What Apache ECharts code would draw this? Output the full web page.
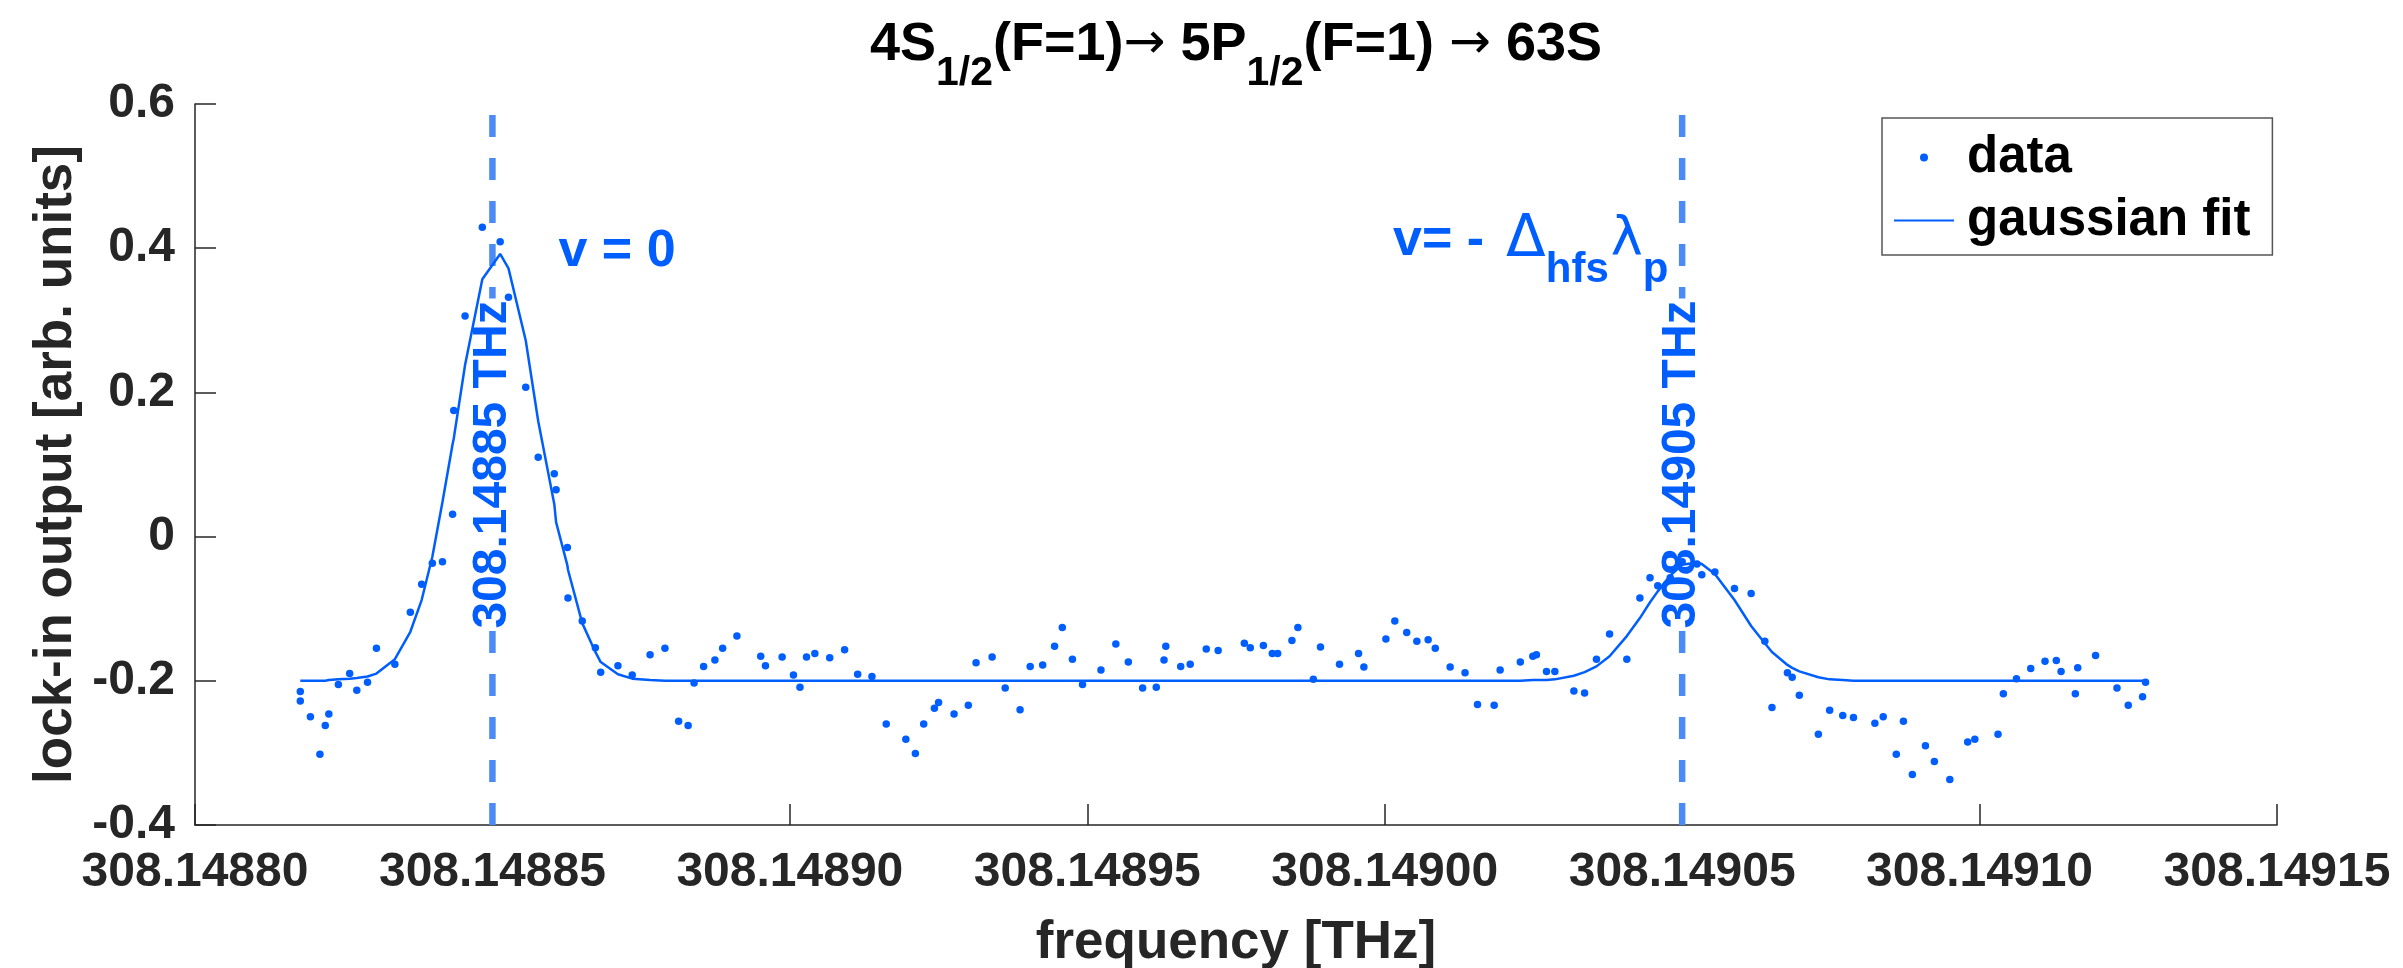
<!DOCTYPE html>
<html>
<head>
<meta charset="utf-8">
<title>Lock-in spectrum 4S1/2 → 5P1/2 → 63S</title>
<script src="https://cdn.jsdelivr.net/npm/echarts@6/dist/echarts.min.js"></script>
<style>
  html, body { margin: 0; padding: 0; background: #ffffff; }
  #chart { width: 2403px; height: 968px; }
</style>
</head>
<body>
<div id="chart"></div>
<script>
// Measured lock-in signal versus probe frequency (THz)
const freqTHz = [
  308.1488177, 308.1488177, 308.1488194, 308.1488210, 308.1488219, 308.1488225, 308.1488241, 308.1488260,
  308.1488272, 308.1488290, 308.1488305, 308.1488336, 308.1488362, 308.1488381, 308.1488399, 308.1488416,
  308.1488433, 308.1488435, 308.1488454, 308.1488483, 308.1488513, 308.1488527, 308.1488556, 308.1488577,
  308.1488604, 308.1488607, 308.1488626, 308.1488627, 308.1488651, 308.1488673, 308.1488682, 308.1488711,
  308.1488735, 308.1488765, 308.1488790, 308.1488813, 308.1488829, 308.1488839, 308.1488855, 308.1488874,
  308.1488887, 308.1488911, 308.1488951, 308.1488959, 308.1488987, 308.1489006, 308.1489017, 308.1489028,
  308.1489042, 308.1489067, 308.1489092, 308.1489114, 308.1489138, 308.1489162, 308.1489195, 308.1489211,
  308.1489225, 308.1489243, 308.1489250, 308.1489276, 308.1489300, 308.1489313, 308.1489340, 308.1489362,
  308.1489387, 308.1489404, 308.1489425, 308.1489445, 308.1489458, 308.1489475, 308.1489492, 308.1489523,
  308.1489548, 308.1489569, 308.1489593, 308.1489616, 308.1489629, 308.1489632, 308.1489657, 308.1489673,
  308.1489700, 308.1489720, 308.1489764, 308.1489774, 308.1489796, 308.1489811, 308.1489820, 308.1489844,
  308.1489854, 308.1489880, 308.1489892, 308.1489924, 308.1489956, 308.1489965, 308.1490002, 308.1490017,
  308.1490037, 308.1490054, 308.1490073, 308.1490085, 308.1490110, 308.1490135, 308.1490156, 308.1490184,
  308.1490194, 308.1490228, 308.1490249, 308.1490255, 308.1490272, 308.1490286, 308.1490318, 308.1490336,
  308.1490356, 308.1490378, 308.1490407, 308.1490429, 308.1490446, 308.1490459, 308.1490480, 308.1490500,
  308.1490525, 308.1490533, 308.1490555, 308.1490588, 308.1490616, 308.1490639, 308.1490651, 308.1490677,
  308.1490685, 308.1490697, 308.1490729, 308.1490748, 308.1490770, 308.1490788, 308.1490824, 308.1490838,
  308.1490860, 308.1490872, 308.1490887, 308.1490909, 308.1490924, 308.1490950, 308.1490980, 308.1490992,
  308.1491031, 308.1491040, 308.1491062, 308.1491086, 308.1491110, 308.1491129, 308.1491137, 308.1491161,
  308.1491165, 308.1491195, 308.1491231, 308.1491250, 308.1491274, 308.1491279
];
const lockIn = [
  -0.215, -0.228, -0.250, -0.302, -0.262, -0.246, -0.205, -0.190,
  -0.213, -0.202, -0.155, -0.177, -0.105, -0.066, -0.037, -0.035,
   0.031,  0.175,  0.306,  0.429,  0.409,  0.332,  0.207,  0.110,
   0.087,  0.065, -0.015, -0.085, -0.117, -0.154, -0.188, -0.179,
  -0.192, -0.164, -0.155, -0.256, -0.262, -0.203, -0.180, -0.171,
  -0.155, -0.138, -0.166, -0.179, -0.167, -0.192, -0.209, -0.167,
  -0.162, -0.168, -0.157, -0.191, -0.194, -0.260, -0.281, -0.301,
  -0.260, -0.238, -0.230, -0.246, -0.234, -0.175, -0.167, -0.210,
  -0.240, -0.180, -0.178, -0.152, -0.126, -0.170, -0.205, -0.185,
  -0.149, -0.174, -0.210, -0.209, -0.171, -0.152, -0.180, -0.177,
  -0.156, -0.158, -0.148, -0.154, -0.151, -0.162, -0.162, -0.144,
  -0.126, -0.198, -0.153, -0.177, -0.162, -0.181, -0.142, -0.117,
  -0.133, -0.145, -0.143, -0.155, -0.181, -0.189, -0.233, -0.234,
  -0.185, -0.174, -0.166, -0.164, -0.187, -0.187, -0.214, -0.217,
  -0.170, -0.135, -0.170, -0.085, -0.057, -0.068, -0.057, -0.035,
  -0.038, -0.053, -0.049, -0.072, -0.079, -0.145, -0.237, -0.189,
  -0.195, -0.220, -0.274, -0.241, -0.248, -0.251, -0.259, -0.250,
  -0.302, -0.256, -0.330, -0.290, -0.312, -0.337, -0.285, -0.281,
  -0.274, -0.218, -0.197, -0.183, -0.173, -0.172, -0.187, -0.218,
  -0.182, -0.165, -0.210, -0.234, -0.222, -0.202
];

// Gaussian fit, sampled at the measurement frequencies (flat parts kept by their ends)
const fitFreqTHz = [
  308.1488177, 308.1488219, 308.1488225, 308.1488241, 308.1488260, 308.1488272, 308.1488290, 308.1488305,
  308.1488336, 308.1488362, 308.1488381, 308.1488399, 308.1488416, 308.1488433, 308.1488435, 308.1488454,
  308.1488483, 308.1488513, 308.1488527, 308.1488556, 308.1488577, 308.1488604, 308.1488607, 308.1488626,
  308.1488627, 308.1488651, 308.1488673, 308.1488682, 308.1488711, 308.1488735, 308.1488765, 308.1488790,
  308.1490228, 308.1490249, 308.1490272, 308.1490286, 308.1490318, 308.1490336, 308.1490356, 308.1490378,
  308.1490407, 308.1490429, 308.1490446, 308.1490459, 308.1490480, 308.1490500, 308.1490525, 308.1490533,
  308.1490555, 308.1490588, 308.1490616, 308.1490639, 308.1490651, 308.1490677, 308.1490685, 308.1490697,
  308.1490729, 308.1490748, 308.1490770, 308.1490788, 308.1491279
];
const fitLevel = [
  -0.200, -0.200, -0.199, -0.198, -0.197, -0.196, -0.194, -0.190,
  -0.170, -0.132, -0.088, -0.028,  0.048,  0.128,  0.136,  0.238,
   0.357,  0.392,  0.372,  0.272,  0.160,  0.045,  0.020, -0.040,
  -0.046, -0.120, -0.160, -0.174, -0.191, -0.197, -0.199, -0.200,
  -0.200, -0.199, -0.199, -0.198, -0.193, -0.188, -0.180, -0.166,
  -0.138, -0.113, -0.091, -0.076, -0.054, -0.039, -0.036, -0.038,
  -0.052, -0.088, -0.124, -0.148, -0.160, -0.178, -0.182, -0.187,
  -0.195, -0.198, -0.199, -0.200, -0.200
];

// Reference frequencies marked by dashed lines, and where their rotated labels sit
const markerFreqTHz = [308.14885, 308.14905];
const markerLabelLevel = 0.1;

// Text annotations: anchor (frequency, level) and rich text
const noteFreqTHz = [308.1488611, 308.1490014];
const noteLevel = [0.395, 0.41];
const noteText = ['{m|v = 0}', '{m|v= -}{d|\u0394}{s|hfs}{l|\u03bb}{s|p}'];

// Axis ticks
const xTicks = [308.14880, 308.14885, 308.14890, 308.14895, 308.14900, 308.14905, 308.14910, 308.14915];
const xTickLabels = ['308.14880', '308.14885', '308.14890', '308.14895', '308.14900', '308.14905', '308.14910', '308.14915'];
const yTicks = [-0.4, -0.2, 0, 0.2, 0.4, 0.6];
const yTickLabels = ['-0.4', '-0.2', '0', '0.2', '0.4', '0.6'];

const FONT = "'Liberation Sans', Arial, Helvetica, sans-serif";
const SYMBOL_FONT = "'DejaVu Sans', 'Liberation Sans', sans-serif";
const BLUE = '#005eff';
const DASH_BLUE = '#4c8af5';
const AXIS = '#262626';

const GRID = { left: 195, right: 126, top: 104, bottom: 143 };
const CHART_W = 2403;

const chart = echarts.init(document.getElementById('chart'), null, { renderer: 'canvas' });

function nearestLabel(ticks, labels, v) {
  let best = 0;
  for (let i = 1; i < ticks.length; i++) {
    if (Math.abs(ticks[i] - v) < Math.abs(ticks[best] - v)) best = i;
  }
  return labels[best];
}

// Rich-text styles (zrender text props) for subscripted strings
const SUB_PAD = 58;
function richStyles(color, mainSize, subSize) {
  return {
    m: { fontFamily: FONT, fontWeight: 'bold', fontSize: mainSize, fill: color, lineHeight: 60 },
    a: { fontFamily: SYMBOL_FONT, fontWeight: 'normal', fontSize: 50, fill: color, lineHeight: 60 },
    d: { fontFamily: SYMBOL_FONT, fontWeight: 'normal', fontSize: 58, fill: color, lineHeight: 60, padding: [0, 0, 0, 22] },
    l: { fontFamily: SYMBOL_FONT, fontWeight: 'normal', fontSize: 54, fill: color, lineHeight: 60, padding: [0, 0, 0, 2] },
    s: { fontFamily: FONT, fontWeight: 'bold', fontSize: subSize, fill: color, lineHeight: 60, padding: [SUB_PAD, 0, 0, 0] }
  };
}

const dashedSeries = markerFreqTHz.map((f, i) => ({
  name: 'marker ' + i,
  type: 'line',
  silent: true,
  data: [[f, yTicks[0]], [f, yTicks[yTicks.length - 1]]],
  symbol: 'none',
  lineStyle: { color: DASH_BLUE, width: 6.5, type: [22, 21] },
  z: 1
}));

const option = {
  animation: false,
  backgroundColor: '#ffffff',
  grid: Object.assign({ containLabel: false, outerBoundsMode: 'none' }, GRID),
  xAxis: {
    type: 'value',
    min: xTicks[0],
    max: xTicks[xTicks.length - 1],
    interval: 0.00005,
    name: 'frequency [THz]',
    nameLocation: 'middle',
    nameGap: 92,
    nameMoveOverlap: false,
    nameTextStyle: { fontFamily: FONT, fontWeight: 'bold', fontSize: 53, color: AXIS },
    axisLine: { show: true, onZero: false, lineStyle: { color: AXIS, width: 1.5 } },
    axisTick: { show: true, inside: true, length: 21, lineStyle: { color: AXIS, width: 1.5 }, customValues: xTicks },
    axisLabel: {
      show: true, margin: 24, fontFamily: FONT, fontWeight: 'bold', fontSize: 48, color: AXIS,
      customValues: xTicks,
      formatter: v => nearestLabel(xTicks, xTickLabels, v)
    },
    splitLine: { show: false }
  },
  yAxis: {
    type: 'value',
    min: yTicks[0],
    max: yTicks[yTicks.length - 1],
    interval: 0.2,
    name: 'lock-in output [arb. units]',
    nameLocation: 'middle',
    nameRotate: 90,
    nameGap: 112,
    nameMoveOverlap: false,
    nameTextStyle: { fontFamily: FONT, fontWeight: 'bold', fontSize: 53, color: AXIS },
    axisLine: { show: true, onZero: false, lineStyle: { color: AXIS, width: 1.5 } },
    axisTick: { show: true, inside: true, length: 21, lineStyle: { color: AXIS, width: 1.5 }, customValues: yTicks },
    axisLabel: {
      show: true, margin: 20, fontFamily: FONT, fontWeight: 'bold', fontSize: 48, color: AXIS,
      customValues: yTicks,
      formatter: v => nearestLabel(yTicks, yTickLabels, v)
    },
    splitLine: { show: false }
  },
  legend: {
    data: [
      { name: 'data', icon: 'circle' },
      { name: 'gaussian fit', itemStyle: { opacity: 0 } }
    ],
    orient: 'vertical',
    left: 1882,
    top: 118,
    itemWidth: 60,
    itemHeight: 8,
    itemGap: 12,
    padding: [14, 22, 9, 11],
    borderColor: '#555555',
    borderWidth: 1.5,
    borderRadius: 0,
    backgroundColor: '#ffffff',
    selectedMode: false,
    textStyle: { fontFamily: FONT, fontWeight: 'bold', fontSize: 51, color: '#000000', lineHeight: 50, padding: [0, 0, 0, 8] }
  },
  series: [
    ...dashedSeries,
    {
      name: 'gaussian fit',
      type: 'line',
      data: fitFreqTHz.map((f, i) => [f, fitLevel[i]]),
      symbol: 'none',
      smooth: false,
      lineStyle: { color: BLUE, width: 2.5 },
      itemStyle: { color: BLUE },
      z: 2
    },
    {
      name: 'data',
      type: 'scatter',
      data: freqTHz.map((f, i) => [f, lockIn[i]]),
      symbol: 'circle',
      symbolSize: 7.5,
      itemStyle: { color: BLUE, opacity: 1 },
      z: 3
    }
  ]
};

chart.setOption(option);

// Title, rotated frequency labels and annotations are placed as graphic text;
// anchors come from the axes through convertToPixel.
const toPx = (f, v) => chart.convertToPixel({ xAxisIndex: 0, yAxisIndex: 0 }, [f, v]);

const titleGraphic = {
  id: 'title',
  type: 'text',
  x: GRID.left + (CHART_W - GRID.left - GRID.right) / 2,
  y: 45,
  z: 10,
  style: {
    text: '{m|4S}{s|1/2}{m|(F=1)}{a|\u2192}{m| 5P}{s|1/2}{m|(F=1) }{a|\u2192}{m| 63S}',
    rich: richStyles('#000000', 54, 41),
    align: 'center',
    verticalAlign: 'middle'
  }
};

const markerLabelGraphics = markerFreqTHz.map((f, i) => {
  const p = toPx(f, markerLabelLevel);
  return {
    id: 'markerLabel' + i,
    type: 'text',
    x: p[0],
    y: p[1],
    rotation: Math.PI / 2,
    z: 1.5,
    silent: true,
    style: {
      text: f.toFixed(5) + ' THz',
      fontFamily: FONT,
      fontWeight: 'bold',
      fontSize: 48,
      fill: BLUE,
      align: 'center',
      verticalAlign: 'middle',
      backgroundColor: '#ffffff',
      padding: [0, 2, 0, 2],
      lineHeight: 44
    }
  };
});

const noteGraphics = noteFreqTHz.map((f, i) => {
  const p = toPx(f, noteLevel[i]);
  return {
    id: 'note' + i,
    type: 'text',
    x: p[0],
    y: p[1],
    z: 10,
    silent: true,
    style: {
      text: noteText[i],
      rich: richStyles(BLUE, 52, 42),
      align: 'left',
      verticalAlign: 'middle'
    }
  };
});

chart.setOption({ graphic: [titleGraphic, ...markerLabelGraphics, ...noteGraphics] });
</script>
</body>
</html>
